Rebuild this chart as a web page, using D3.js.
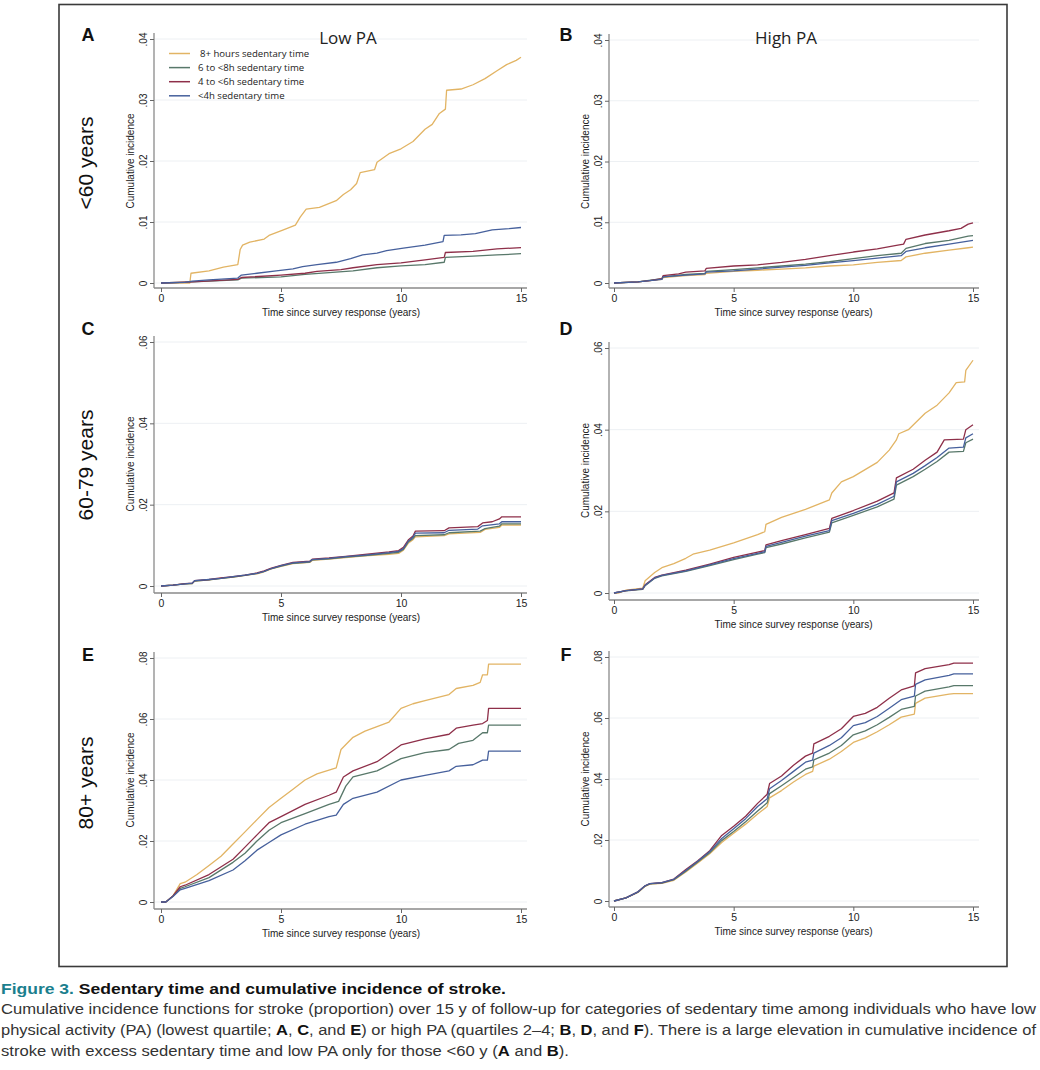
<!DOCTYPE html>
<html>
<head>
<meta charset="utf-8">
<script src="https://cdn.jsdelivr.net/npm/d3@7"></script>
<style>
  body { margin: 0; background: #fff; }
  svg { display: block; }
</style>
</head>
<body>
<script>
// Series names and colours
const seriesNames = ["8+ hours sedentary time", "6 to <8h sedentary time", "4 to <6h sedentary time", "<4h sedentary time"];
const seriesColors = ["#e2b464", "#58786a", "#8e2f49", "#46609c"];

const rowLabels = ["<60 years", "60-79 years", "80+ years"];
const colTitles = ["Low PA", "High PA"];
const xTicks = [0, 5, 10, 15];
const yTicksA = [0, 0.01, 0.02, 0.03, 0.04];
const yTicksC = [0, 0.02, 0.04, 0.06];
const yTicksE = [0, 0.02, 0.04, 0.06, 0.08];

// Panel A: <60 y, low PA   [years, cumulative incidence]
const A_8h = [[0,0],[1.2,0],[1.25,0.0016],[2,0.002],[2.6,0.0026],[3.2,0.003],[3.3,0.0055],[3.4,0.0062],[3.7,0.0067],[4.3,0.0072],[4.5,0.0078],[5.1,0.0087],[5.6,0.0095],[5.8,0.0108],[6.05,0.0121],[6.6,0.0124],[7.3,0.0135],[7.6,0.0145],[7.9,0.0153],[8.15,0.0163],[8.3,0.0181],[8.9,0.0186],[9.0,0.0198],[9.5,0.0212],[10,0.022],[10.5,0.0232],[11,0.0252],[11.3,0.026],[11.6,0.0278],[11.85,0.0285],[11.9,0.0316],[12.5,0.0318],[13,0.0325],[13.5,0.0335],[14,0.0348],[14.4,0.0358],[14.8,0.0365],[15,0.037]];
const A_6h = [[0,0],[1.3,0.0002],[3.2,0.0005],[3.35,0.0008],[5,0.001],[6,0.0014],[7,0.0017],[8,0.002],[9,0.0025],[10,0.0028],[11,0.003],[11.8,0.0034],[11.85,0.0042],[13,0.0044],[14,0.0046],[15,0.0048]];
const A_4h = [[0,0],[1.3,0.0002],[3.2,0.0006],[3.35,0.0009],[5,0.0013],[6,0.0016],[6.5,0.0019],[7.5,0.0022],[8,0.0025],[9,0.003],[10,0.0033],[11,0.0038],[11.8,0.0042],[11.85,0.005],[13,0.0052],[14,0.0056],[15,0.0058]];
const A_lt4 = [[0,0],[1,0.0001],[1.3,0.0003],[2,0.0005],[3.2,0.0008],[3.35,0.0013],[4,0.0016],[4.8,0.002],[5.5,0.0023],[5.9,0.0027],[6.5,0.003],[7.3,0.0034],[7.9,0.004],[8.4,0.0046],[9,0.0049],[9.4,0.0053],[10.1,0.0057],[11,0.0062],[11.75,0.0068],[11.8,0.0078],[12.5,0.0079],[13.1,0.0081],[13.8,0.0087],[14.5,0.0089],[15,0.0091]];

// Panel B: <60 y, high PA
const B_8h = [[0,0],[1,0.0002],[2,0.0006],[2.05,0.0009],[3,0.0012],[3.8,0.0014],[3.85,0.0016],[5,0.0019],[6,0.0021],[7,0.0023],[8,0.0025],[9,0.0028],[10,0.003],[11,0.0034],[12,0.0037],[12.2,0.0043],[13,0.0049],[14,0.0054],[14.8,0.0058],[15,0.0059]];
const B_6h = [[0,0],[1,0.0002],[2,0.0007],[2.05,0.001],[3,0.0014],[3.8,0.0016],[3.85,0.0019],[5,0.0022],[6,0.0025],[7,0.0028],[8,0.0031],[9,0.0035],[10,0.004],[11,0.0045],[12,0.0049],[12.2,0.0057],[13,0.0065],[14,0.007],[14.8,0.0077],[15,0.0078]];
const B_4h = [[0,0],[0.5,0.0001],[1,0.0002],[1.5,0.0004],[2,0.0007],[2.05,0.0012],[2.7,0.0015],[3,0.0018],[3.8,0.002],[3.85,0.0024],[5,0.0028],[6,0.003],[7,0.0034],[8,0.0039],[9,0.0045],[10,0.0051],[11,0.0056],[11.8,0.0062],[12.1,0.0064],[12.2,0.0072],[13,0.0079],[14,0.0086],[14.5,0.009],[14.8,0.0097],[15,0.0099]];
const B_lt4 = [[0,0],[1,0.0002],[2,0.0006],[2.05,0.001],[3,0.0013],[3.8,0.0015],[3.85,0.0018],[5,0.002],[6,0.0023],[7,0.0026],[8,0.0029],[9,0.0033],[10,0.0037],[11,0.0041],[12,0.0045],[12.2,0.0052],[13,0.0058],[14,0.0064],[14.8,0.0069],[15,0.007]];

// Panel C: 60-79 y, low PA
const C_8h = [[0,0],[0.5,0.0002],[1,0.0005],[1.3,0.0006],[1.4,0.0012],[2,0.0015],[2.5,0.0019],[3,0.0022],[3.5,0.0026],[4,0.003],[4.3,0.0035],[4.6,0.0042],[5,0.0048],[5.5,0.0055],[6.2,0.0058],[6.3,0.0063],[7,0.0066],[7.7,0.007],[8.5,0.0074],[9.5,0.0078],[9.9,0.008],[10.1,0.0088],[10.3,0.0105],[10.5,0.0114],[10.6,0.0121],[11.8,0.0124],[12,0.0128],[13.3,0.0132],[13.5,0.0139],[14.1,0.0144],[14.2,0.015],[15,0.015]];
const C_6h = [[0,0],[0.5,0.0002],[1,0.0005],[1.3,0.0006],[1.4,0.0012],[2,0.0015],[2.5,0.0019],[3,0.0022],[3.5,0.0026],[4,0.0031],[4.3,0.0036],[4.6,0.0043],[5,0.0049],[5.5,0.0056],[6.2,0.0059],[6.3,0.0064],[7,0.0067],[7.7,0.0071],[8.5,0.0075],[9.5,0.008],[9.9,0.0083],[10.1,0.009],[10.3,0.0108],[10.5,0.0117],[10.6,0.0124],[11.8,0.0126],[12,0.0131],[13.3,0.0135],[13.5,0.0141],[14.1,0.0147],[14.2,0.0153],[15,0.0153]];
const C_4h = [[0,0],[0.5,0.0002],[1,0.0006],[1.3,0.0007],[1.4,0.0013],[2,0.0016],[2.5,0.002],[3,0.0023],[3.5,0.0027],[4,0.0032],[4.3,0.0037],[4.6,0.0044],[5,0.0051],[5.5,0.0058],[6.2,0.0061],[6.3,0.0066],[7,0.0069],[7.7,0.0073],[8.5,0.0078],[9.5,0.0084],[9.9,0.0087],[10.1,0.0095],[10.3,0.0113],[10.5,0.0123],[10.6,0.0135],[11.8,0.0136],[12,0.0143],[13.2,0.0146],[13.4,0.0155],[13.8,0.0158],[14.1,0.0165],[14.2,0.017],[15,0.017]];
const C_lt4 = [[0,0],[0.5,0.0002],[1,0.0005],[1.3,0.0007],[1.4,0.0013],[2,0.0016],[2.5,0.0019],[3,0.0023],[3.5,0.0027],[4,0.0031],[4.3,0.0036],[4.6,0.0043],[5,0.005],[5.5,0.0057],[6.2,0.006],[6.3,0.0065],[7,0.0068],[7.7,0.0072],[8.5,0.0076],[9.5,0.0082],[9.9,0.0085],[10.1,0.0092],[10.3,0.011],[10.5,0.012],[10.6,0.013],[11.8,0.0131],[12,0.0137],[13.2,0.014],[13.4,0.0148],[14.1,0.0153],[14.2,0.0158],[15,0.0158]];

// Panel D: 60-79 y, high PA
const D_8h = [[0,0],[0.2,0],[0.5,0.0007],[1.2,0.0012],[1.3,0.003],[1.7,0.005],[2,0.0062],[2.5,0.0072],[3,0.0085],[3.3,0.0095],[4,0.0105],[5,0.0123],[6,0.0143],[6.3,0.015],[6.35,0.0168],[7,0.0185],[8,0.0205],[9,0.0228],[9.1,0.0245],[9.5,0.0272],[10,0.0285],[11,0.032],[11.5,0.035],[11.8,0.0375],[11.9,0.039],[12.3,0.04],[13,0.044],[13.5,0.046],[14,0.049],[14.3,0.0515],[14.65,0.0517],[14.7,0.0545],[15,0.057]];
const D_6h = [[0,0],[0.5,0.0005],[1.2,0.0009],[1.3,0.0018],[1.7,0.0036],[2,0.0042],[3,0.0053],[4,0.0067],[5,0.0082],[6,0.0095],[6.3,0.0099],[6.35,0.0111],[7,0.012],[8,0.0135],[9,0.0149],[9.1,0.0172],[10,0.019],[11,0.0211],[11.7,0.023],[11.8,0.0264],[12.5,0.0285],[13,0.0303],[13.5,0.0322],[14,0.0345],[14.6,0.0347],[14.7,0.0368],[15,0.0377]];
const D_4h = [[0,0],[0.5,0.0006],[1.2,0.001],[1.3,0.002],[1.7,0.0038],[2,0.0044],[3,0.0056],[4,0.0071],[5,0.0087],[6,0.01],[6.3,0.0104],[6.35,0.0118],[7,0.0128],[8,0.0143],[9,0.0158],[9.1,0.0183],[10,0.0202],[11,0.0225],[11.7,0.0245],[11.8,0.0282],[12.5,0.0303],[13,0.0325],[13.5,0.0345],[13.8,0.0375],[14.6,0.0377],[14.7,0.04],[15,0.0412]];
const D_lt4 = [[0,0],[0.5,0.0006],[1.2,0.001],[1.3,0.0019],[1.7,0.0037],[2,0.0043],[3,0.0054],[4,0.0069],[5,0.0084],[6,0.0097],[6.3,0.0101],[6.35,0.0114],[7,0.0124],[8,0.0139],[9,0.0153],[9.1,0.0177],[10,0.0195],[11,0.0217],[11.7,0.0237],[11.8,0.0272],[12.5,0.0293],[13,0.0312],[13.5,0.0332],[14,0.0355],[14.6,0.0357],[14.7,0.038],[15,0.039]];

// Panel E: 80+ y, low PA
const E_8h = [[0,0],[0.2,0],[0.5,0.002],[0.8,0.006],[1,0.0065],[1.5,0.009],[2,0.012],[2.5,0.015],[3,0.019],[3.5,0.023],[4,0.027],[4.5,0.031],[5,0.034],[5.5,0.037],[6,0.04],[6.5,0.042],[7.3,0.044],[7.5,0.05],[8,0.054],[8.5,0.056],[9,0.0575],[9.5,0.059],[10,0.0635],[10.5,0.065],[11,0.066],[12,0.068],[12.3,0.07],[13,0.071],[13.3,0.072],[13.4,0.0745],[13.6,0.0745],[13.65,0.078],[15,0.078]];
const E_6h = [[0,0],[0.2,0],[0.5,0.002],[0.8,0.0045],[1,0.005],[2,0.008],[3,0.013],[3.5,0.016],[4,0.02],[4.5,0.0235],[5,0.026],[6,0.029],[7,0.032],[7.4,0.033],[7.7,0.038],[8,0.041],[9,0.043],[10,0.047],[11,0.049],[12,0.05],[12.4,0.052],[13,0.053],[13.4,0.0555],[13.6,0.0555],[13.65,0.058],[15,0.058]];
const E_4h = [[0,0],[0.2,0],[0.5,0.002],[0.8,0.005],[1,0.0055],[2,0.009],[3,0.014],[3.5,0.018],[4,0.022],[4.5,0.026],[5,0.028],[6,0.032],[7,0.035],[7.3,0.036],[7.6,0.041],[8,0.043],[9,0.046],[10,0.0515],[11,0.0535],[12,0.055],[12.3,0.057],[13,0.058],[13.4,0.0585],[13.6,0.0595],[13.65,0.0635],[15,0.0635]];
const E_lt4 = [[0,0],[0.2,0],[0.5,0.0018],[0.8,0.004],[1,0.0045],[2,0.007],[3,0.0105],[3.5,0.0135],[4,0.017],[4.5,0.0195],[5,0.022],[6,0.0255],[7,0.028],[7.3,0.0285],[7.6,0.032],[8,0.034],[9,0.036],[10,0.04],[11,0.0415],[12,0.043],[12.3,0.0445],[13,0.045],[13.4,0.0465],[13.6,0.0465],[13.65,0.0495],[15,0.0495]];

// Panel F: 80+ y, high PA
const F_8h = [[0,0],[0.5,0.001],[1,0.0028],[1.3,0.0048],[1.5,0.0055],[2,0.0058],[2.5,0.0068],[3,0.0095],[3.5,0.0125],[4,0.0155],[4.5,0.0192],[5,0.0222],[5.5,0.0252],[6,0.0285],[6.4,0.031],[6.5,0.0338],[7,0.0362],[7.5,0.039],[8,0.0415],[8.3,0.0425],[8.35,0.0442],[9,0.0465],[9.5,0.049],[10,0.052],[10.5,0.0535],[11,0.0555],[11.5,0.0578],[12,0.0603],[12.55,0.0613],[12.6,0.0648],[13,0.0665],[14,0.0678],[14.2,0.068],[15,0.068]];
const F_6h = [[0,0],[0.5,0.001],[1,0.0029],[1.3,0.0049],[1.5,0.0056],[2,0.0059],[2.5,0.007],[3,0.0098],[3.5,0.0128],[4,0.0158],[4.5,0.0198],[5,0.0228],[5.5,0.026],[6,0.0295],[6.4,0.0322],[6.5,0.0352],[7,0.0378],[7.5,0.0405],[8,0.0432],[8.3,0.044],[8.35,0.0463],[9,0.0485],[9.5,0.051],[10,0.0545],[10.5,0.0558],[11,0.0578],[11.5,0.0602],[12,0.0628],[12.55,0.0638],[12.6,0.0672],[13,0.0688],[14,0.0702],[14.2,0.0706],[15,0.0706]];
const F_4h = [[0,0],[0.5,0.001],[1,0.003],[1.3,0.005],[1.5,0.0057],[2,0.006],[2.5,0.0072],[3,0.0103],[3.5,0.0132],[4,0.0165],[4.5,0.0215],[5,0.0245],[5.5,0.0278],[6,0.032],[6.4,0.035],[6.5,0.0385],[7,0.041],[7.5,0.0445],[8,0.0475],[8.3,0.0485],[8.35,0.0515],[9,0.054],[9.5,0.0565],[10,0.0605],[10.5,0.0615],[11,0.0635],[11.5,0.0665],[12,0.0692],[12.55,0.0705],[12.6,0.0748],[13,0.0762],[14,0.0775],[14.2,0.078],[15,0.078]];
const F_lt4 = [[0,0],[0.5,0.001],[1,0.003],[1.3,0.005],[1.5,0.0057],[2,0.006],[2.5,0.0071],[3,0.01],[3.5,0.013],[4,0.0162],[4.5,0.0205],[5,0.0237],[5.5,0.027],[6,0.031],[6.4,0.0335],[6.5,0.0368],[7,0.0395],[7.5,0.0425],[8,0.0455],[8.3,0.0462],[8.35,0.0485],[9,0.051],[9.5,0.0535],[10,0.0575],[10.5,0.0585],[11,0.0605],[11.5,0.0632],[12,0.066],[12.55,0.0672],[12.6,0.071],[13,0.0725],[14,0.074],[14.2,0.0745],[15,0.0745]];

// Caption text
const captionTitle = [["Figure 3.", "fig"], [" Sedentary time and cumulative incidence of stroke.", "b"]];
const captionLines = [
  [["Cumulative incidence functions for stroke (proportion) over 15 y of follow-up for categories of sedentary time among individuals who have low", ""]],
  [["physical activity (PA) (lowest quartile; ", ""], ["A", "b"], [", ", ""], ["C", "b"], [", and ", ""], ["E", "b"], [") or high PA (quartiles 2\u20134; ", ""], ["B", "b"], [", ", ""], ["D", "b"], [", and ", ""], ["F", "b"], ["). There is a large elevation in cumulative incidence of", ""]],
  [["stroke with excess sedentary time and low PA only for those <60 y (", ""], ["A", "b"], [" and ", ""], ["B", "b"], [").", ""]]
];

// Layout
const width = 1040, height = 1070;
const colX = [{x0: 161, x15: 521, axisX: 154, letterX: 88}, {x0: 614, x15: 973, axisX: 609, letterX: 566}];
const panels = [
  {id: "A", col: 0, y0: 283, yTop: 39, yMax: 0.04, ticks: yTicksA, axisY: 288, letterY: 41, series: [A_8h, A_6h, A_4h, A_lt4]},
  {id: "B", col: 1, y0: 283, yTop: 40, yMax: 0.04, ticks: yTicksA, axisY: 288, letterY: 41, series: [B_8h, B_6h, B_4h, B_lt4]},
  {id: "C", col: 0, y0: 586, yTop: 342, yMax: 0.06, ticks: yTicksC, axisY: 593, letterY: 335, series: [C_8h, C_6h, C_4h, C_lt4]},
  {id: "D", col: 1, y0: 593, yTop: 348, yMax: 0.06, ticks: yTicksC, axisY: 600, letterY: 335, series: [D_8h, D_6h, D_4h, D_lt4]},
  {id: "E", col: 0, y0: 902, yTop: 658, yMax: 0.08, ticks: yTicksE, axisY: 909, letterY: 661, series: [E_8h, E_6h, E_4h, E_lt4]},
  {id: "F", col: 1, y0: 901, yTop: 657, yMax: 0.08, ticks: yTicksE, axisY: 907, letterY: 661, series: [F_8h, F_6h, F_4h, F_lt4]}
];
const rowLabelY = [163, 465, 783];

const axisFont = "'Liberation Sans', Arial, sans-serif";
const tickFmt = d => d === 0 ? "0" : d3.format(".2f")(d).replace(/^0/, "");

const svg = d3.select("body").append("svg")
  .attr("width", width)
  .attr("height", height);

svg.append("rect").attr("width", width).attr("height", height).attr("fill", "#fff");

// Outer frame
svg.append("rect")
  .attr("x", 59).attr("y", 4.5)
  .attr("width", 948).attr("height", 962)
  .attr("fill", "none")
  .attr("stroke", "#3a3a3a")
  .attr("stroke-width", 1.6);

panels.forEach(p => {
  const c = colX[p.col];
  const x = d3.scaleLinear().domain([0, 15]).range([c.x0, c.x15]);
  const y = d3.scaleLinear().domain([0, p.yMax]).range([p.y0, p.yTop]);
  const g = svg.append("g").attr("class", "panel-" + p.id);

  // grid
  g.selectAll(".grid")
    .data(p.ticks)
    .enter()
    .append("line")
    .attr("x1", c.axisX + 1).attr("x2", c.x15 + 6)
    .attr("y1", d => y(d)).attr("y2", d => y(d))
    .attr("stroke", "#edf0f3")
    .attr("stroke-width", 1);

  // axis lines
  g.append("line")
    .attr("x1", c.axisX).attr("x2", c.axisX)
    .attr("y1", p.yTop - 6).attr("y2", p.axisY)
    .attr("stroke", "#8a8a8a").attr("stroke-width", 1.3);
  g.append("line")
    .attr("x1", c.axisX).attr("x2", c.x15 + 6)
    .attr("y1", p.axisY).attr("y2", p.axisY)
    .attr("stroke", "#8a8a8a").attr("stroke-width", 1.3);

  // y axis ticks
  const yAxis = d3.axisLeft(y).tickValues(p.ticks).tickFormat(tickFmt).tickSize(4).tickPadding(3);
  const ya = g.append("g")
    .attr("transform", `translate(${c.axisX}, 0)`)
    .call(yAxis);
  ya.select(".domain").remove();
  ya.selectAll(".tick line").attr("stroke", "#666");
  ya.selectAll(".tick text")
    .attr("x", 0).attr("dy", null)
    .attr("transform", "translate(-7, 0) rotate(-90)")
    .attr("text-anchor", "middle")
    .attr("fill", "#222")
    .style("font-family", axisFont)
    .style("font-size", "10px");

  // x axis ticks
  const xAxis = d3.axisBottom(x).tickValues(xTicks).tickSize(4).tickPadding(2);
  const xa = g.append("g")
    .attr("transform", `translate(0, ${p.axisY})`)
    .call(xAxis);
  xa.select(".domain").remove();
  xa.selectAll(".tick line").attr("stroke", "#666");
  xa.selectAll(".tick text")
    .attr("y", 0).attr("dy", null)
    .attr("transform", "translate(0, 14)")
    .attr("fill", "#222")
    .style("font-family", axisFont)
    .style("font-size", "10.5px");

  // axis titles
  g.append("text")
    .attr("x", (c.x0 + c.x15) / 2)
    .attr("y", p.axisY + 28)
    .attr("text-anchor", "middle")
    .attr("fill", "#222")
    .style("font-family", axisFont)
    .style("font-size", "10px")
    .text("Time since survey response (years)");
  g.append("text")
    .attr("transform", `translate(${c.axisX - 20}, ${(p.y0 + p.yTop) / 2}) rotate(-90)`)
    .attr("text-anchor", "middle")
    .attr("fill", "#222")
    .style("font-family", axisFont)
    .style("font-size", "10px")
    .text("Cumulative incidence");

  // curves
  const line = d3.line().x(d => x(d[0])).y(d => y(d[1]));
  g.selectAll(".curve")
    .data(p.series)
    .enter()
    .append("path")
    .attr("d", line)
    .attr("fill", "none")
    .attr("stroke", (d, i) => seriesColors[i])
    .attr("stroke-width", 1.3)
    .attr("stroke-linejoin", "round");

  // panel letter
  svg.append("text")
    .attr("x", c.letterX).attr("y", p.letterY)
    .attr("text-anchor", "middle")
    .style("font-family", "'Liberation Sans', Arial, sans-serif")
    .style("font-weight", "bold")
    .style("font-size", "18px")
    .attr("fill", "#111")
    .text(p.id);
});

// column titles
colTitles.forEach((t, i) => {
  svg.append("text")
    .attr("x", i === 0 ? 348 : 786)
    .attr("y", 44)
    .attr("text-anchor", "middle")
    .style("font-family", "'Open Sans', 'Liberation Sans', sans-serif")
    .style("font-size", "17px")
    .attr("fill", "#222")
    .text(t);
});

// row labels
rowLabels.forEach((t, i) => {
  svg.append("text")
    .attr("transform", `translate(93, ${rowLabelY[i]}) rotate(-90)`)
    .attr("text-anchor", "middle")
    .style("font-family", "'Liberation Sans', Arial, sans-serif")
    .style("font-size", "21px")
    .attr("fill", "#111")
    .text(t);
});

// legend (panel A)
const legend = svg.append("g").attr("class", "legend");
seriesNames.forEach((name, i) => {
  const ly = 53.5 + i * 14.1;
  legend.append("line")
    .attr("x1", 169).attr("x2", 190)
    .attr("y1", ly).attr("y2", ly)
    .attr("stroke", seriesColors[i])
    .attr("stroke-width", 1.5);
  legend.append("text")
    .attr("x", i === 0 ? 200 : 198)
    .attr("y", ly + 3.5)
    .style("font-family", "'Open Sans', 'Liberation Sans', sans-serif")
    .style("font-size", "9.6px")
    .attr("fill", "#222")
    .text(name);
});

// caption
const capFont = "'Liberation Sans Narrow', 'Liberation Sans', Arial, sans-serif";
const title = svg.append("text")
  .attr("x", 1).attr("y", 994)
  .attr("textLength", 505).attr("lengthAdjust", "spacingAndGlyphs")
  .style("font-family", capFont)
  .style("font-size", "15.5px");
captionTitle.forEach(s => {
  title.append("tspan")
    .attr("fill", s[1] === "fig" ? "#1b7f8e" : "#111")
    .style("font-weight", "bold")
    .text(s[0]);
});
const capWidths = [1035, 1035, 568];
captionLines.forEach((segs, i) => {
  const t = svg.append("text")
    .attr("x", 1).attr("y", 1014 + i * 21)
    .attr("textLength", capWidths[i]).attr("lengthAdjust", "spacingAndGlyphs")
    .style("font-family", capFont)
    .style("font-size", "15.5px")
    .attr("fill", "#333");
  segs.forEach(s => {
    t.append("tspan")
      .style("font-weight", s[1] === "b" ? "bold" : "normal")
      .attr("fill", s[1] === "b" ? "#111" : "#333")
      .text(s[0]);
  });
});
</script>
</body>
</html>
